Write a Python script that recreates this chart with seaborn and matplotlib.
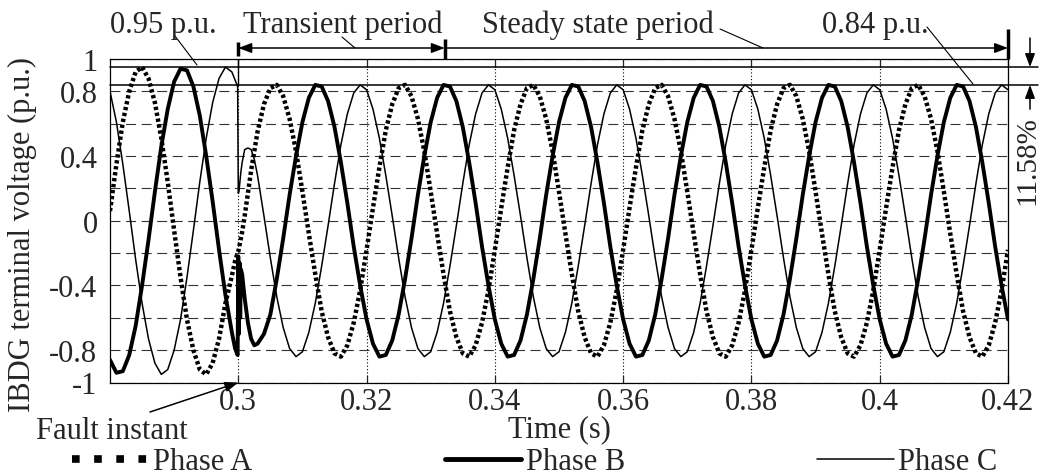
import numpy as np
import pandas as pd
from matplotlib import pyplot as plt
from matplotlib.lines import Line2D
import matplotlib.transforms as mtransforms
import seaborn as sns

W, H = 1041, 477

# sample times (s): 1 ms steps, finer steps around the fault instant
t_pre = np.arange(280, 300) / 1000
t_fault = [0.2995, 0.2999, 0.3000, 0.3001, 0.3002, 0.3003, 0.3004,
           0.3006, 0.3010, 0.3015, 0.3020, 0.3025, 0.3030]
t_post = np.arange(304, 421) / 1000

# terminal voltages (p.u.)
phase_a_pre = [0.06, 0.35, 0.61, 0.80, 0.92, 0.95, 0.88, 0.73, 0.51, 0.24,
               -0.06, -0.35, -0.61, -0.80, -0.92, -0.95, -0.88, -0.73, -0.51, -0.34]
phase_a_fault = [-0.25, -0.20, -0.19, -0.17, -0.15, -0.13, -0.11, -0.07, 0.03, 0.17, 0.31, 0.43, 0.55]
phase_a_post = [
    0.72, 0.82, 0.84, 0.77, 0.63, 0.43, 0.18, -0.08, -0.33, -0.56,
    -0.72, -0.82, -0.84, -0.77, -0.63, -0.43, -0.18, 0.08, 0.33, 0.56,
    0.72, 0.82, 0.84, 0.77, 0.63, 0.43, 0.18, -0.08, -0.33, -0.56,
    -0.72, -0.82, -0.84, -0.77, -0.63, -0.43, -0.18, 0.08, 0.33, 0.56,
    0.72, 0.82, 0.84, 0.77, 0.63, 0.43, 0.18, -0.08, -0.33, -0.56,
    -0.72, -0.82, -0.84, -0.77, -0.63, -0.43, -0.18, 0.08, 0.33, 0.56,
    0.72, 0.82, 0.84, 0.77, 0.63, 0.43, 0.18, -0.08, -0.33, -0.56,
    -0.72, -0.82, -0.84, -0.77, -0.63, -0.43, -0.18, 0.08, 0.33, 0.56,
    0.72, 0.82, 0.84, 0.77, 0.63, 0.43, 0.18, -0.08, -0.33, -0.56,
    -0.72, -0.82, -0.84, -0.77, -0.63, -0.43, -0.18, 0.08, 0.33, 0.56,
    0.72, 0.82, 0.84, 0.77, 0.63, 0.43, 0.18, -0.08, -0.33, -0.56,
    -0.72, -0.82, -0.84, -0.77, -0.63, -0.43, -0.18]

phase_b_pre = [-0.86, -0.94, -0.93, -0.83, -0.65, -0.40, -0.12, 0.18, 0.46, 0.69,
               0.86, 0.94, 0.93, 0.83, 0.65, 0.40, 0.12, -0.18, -0.46, -0.69]
phase_b_fault = [-0.79, -0.83, -0.22, -0.70, -0.26, -0.60, -0.30, -0.33, -0.48, -0.63, -0.73, -0.77, -0.76]
phase_b_post = [
    -0.70, -0.58, -0.36, -0.11, 0.16, 0.40, 0.61, 0.76, 0.84, 0.83,
    0.74, 0.58, 0.36, 0.11, -0.16, -0.40, -0.61, -0.76, -0.84, -0.83,
    -0.74, -0.58, -0.36, -0.11, 0.16, 0.40, 0.61, 0.76, 0.84, 0.83,
    0.74, 0.58, 0.36, 0.11, -0.16, -0.40, -0.61, -0.76, -0.84, -0.83,
    -0.74, -0.58, -0.36, -0.11, 0.16, 0.40, 0.61, 0.76, 0.84, 0.83,
    0.74, 0.58, 0.36, 0.11, -0.16, -0.40, -0.61, -0.76, -0.84, -0.83,
    -0.74, -0.58, -0.36, -0.11, 0.16, 0.40, 0.61, 0.76, 0.84, 0.83,
    0.74, 0.58, 0.36, 0.11, -0.16, -0.40, -0.61, -0.76, -0.84, -0.83,
    -0.74, -0.58, -0.36, -0.11, 0.16, 0.40, 0.61, 0.76, 0.84, 0.83,
    0.74, 0.58, 0.36, 0.11, -0.16, -0.40, -0.61, -0.76, -0.84, -0.83,
    -0.74, -0.58, -0.36, -0.11, 0.16, 0.40, 0.61, 0.76, 0.84, 0.83,
    0.74, 0.58, 0.36, 0.11, -0.16, -0.40, -0.61]

phase_c_pre = [0.80, 0.61, 0.35, 0.06, -0.24, -0.51, -0.73, -0.88, -0.95, -0.92,
               -0.80, -0.61, -0.35, -0.06, 0.24, 0.51, 0.73, 0.88, 0.95, 0.92]
phase_c_fault = [0.87, 0.83, 0.17, 0.18, 0.22, 0.26, 0.30, 0.36, 0.44, 0.45, 0.44, 0.38, 0.28]
phase_c_post = [
    0.03, -0.23, -0.47, -0.66, -0.79, -0.84, -0.81, -0.69, -0.51, -0.28,
    -0.03, 0.23, 0.47, 0.66, 0.79, 0.84, 0.81, 0.69, 0.51, 0.28,
    0.03, -0.23, -0.47, -0.66, -0.79, -0.84, -0.81, -0.69, -0.51, -0.28,
    -0.03, 0.23, 0.47, 0.66, 0.79, 0.84, 0.81, 0.69, 0.51, 0.28,
    0.03, -0.23, -0.47, -0.66, -0.79, -0.84, -0.81, -0.69, -0.51, -0.28,
    -0.03, 0.23, 0.47, 0.66, 0.79, 0.84, 0.81, 0.69, 0.51, 0.28,
    0.03, -0.23, -0.47, -0.66, -0.79, -0.84, -0.81, -0.69, -0.51, -0.28,
    -0.03, 0.23, 0.47, 0.66, 0.79, 0.84, 0.81, 0.69, 0.51, 0.28,
    0.03, -0.23, -0.47, -0.66, -0.79, -0.84, -0.81, -0.69, -0.51, -0.28,
    -0.03, 0.23, 0.47, 0.66, 0.79, 0.84, 0.81, 0.69, 0.51, 0.28,
    0.03, -0.23, -0.47, -0.66, -0.79, -0.84, -0.81, -0.69, -0.51, -0.28,
    -0.03, 0.23, 0.47, 0.66, 0.79, 0.84, 0.81]

phase_names = ['Phase A', 'Phase B', 'Phase C']
x_ticks = [0.30, 0.32, 0.34, 0.36, 0.38, 0.40, 0.42]
x_tick_labels = ['0.3', '0.32', '0.34', '0.36', '0.38', '0.4', '0.42']
y_ticks = [1, 0.8, 0.4, 0, -0.4, -0.8, -1]
y_tick_labels = ['1', '0.8', '0.4', '0', '-0.4', '-0.8', '-1']
y_minor = [0.6, 0.2, -0.2, -0.6]

# annotation values
fault_time = 0.3
transient_end = 0.3322
pre_level = 0.95
post_level = 0.84
drop_label = '11.58%'

df = pd.DataFrame({
    'time': np.concatenate([t_pre, t_fault, t_post]),
    'Phase A': phase_a_pre + phase_a_fault + phase_a_post,
    'Phase B': phase_b_pre + phase_b_fault + phase_b_post,
    'Phase C': phase_c_pre + phase_c_fault + phase_c_post,
})

sns.set_style('white')
plt.rcParams['font.family'] = ['Liberation Serif', 'DejaVu Serif']
plt.rcParams['font.size'] = 22
plt.rcParams['axes.unicode_minus'] = False


def fpx(x, y):
    # pixel position in the 1041x477 picture -> figure fraction
    return x / W, 1 - y / H


fig = plt.figure(figsize=(W / 100, H / 100), dpi=100)
ax = fig.add_axes([110 / W, 1 - 383.5 / H, 898 / W, 323.5 / H])

styles = {
    'Phase A': dict(lw=3.2, linestyle=(0, (0.75, 0.6))),
    'Phase B': dict(lw=2.8, linestyle='-'),
    'Phase C': dict(lw=1.1, linestyle='-'),
}
for name in phase_names:
    sns.lineplot(data=df, x='time', y=name, ax=ax, color='k',
                 errorbar=None, **styles[name])

ax.set_xlabel('')
ax.set_ylabel('')
ax.set_xlim(0.28, 0.42)
ax.set_ylim(-1, 1)
ax.set_xticks(x_ticks, x_tick_labels)
ax.set_yticks(y_ticks, y_tick_labels)
ax.set_yticks(y_minor, minor=True)
ax.xaxis.grid(True, ls=(0, (1, 2)), color='k', lw=0.8)
ax.yaxis.grid(True, which='both', ls=(0, (9, 5)), color='0.2', lw=0.8)
ax.tick_params(axis='x', direction='in', length=6, width=0.9, top=True,
               bottom=True, pad=3, labelsize=22)
ax.tick_params(axis='y', which='both', length=0, pad=9, labelsize=22)
for s in ax.spines.values():
    s.set_color('k')
    s.set_linewidth(0.9)

# 0.95 / 0.84 p.u. reference levels
for lev in (pre_level, post_level):
    ax.axhline(lev, xmin=0, xmax=1.033, color='k', lw=1.1, clip_on=False)
ax.plot([fault_time, fault_time], [post_level, 1.0], color='k', lw=1.0)

# period arrows
arrow_y = 1.068
head = dict(color='k', lw=1.1, shrinkA=0, shrinkB=0, mutation_scale=10)
ax.annotate('', xy=(fault_time, arrow_y), xytext=(transient_end, arrow_y),
            arrowprops=dict(arrowstyle='<|-|>,head_length=0.8,head_width=0.3', **head),
            annotation_clip=False)
ax.annotate('', xy=(0.42, arrow_y), xytext=(transient_end, arrow_y),
            arrowprops=dict(arrowstyle='-|>,head_length=0.8,head_width=0.3', **head),
            annotation_clip=False)
for xb, y0, y1 in [(fault_time, 1.02, 1.105), (transient_end, 1.0, 1.124), (0.42, 1.0, 1.185)]:
    ax.plot([xb, xb], [y0, y1], color='k', lw=2.5, clip_on=False, solid_capstyle='butt')

# voltage drop dimension on the right
xd = 1.0245
ax.annotate('', xy=(xd, pre_level), xycoords=('axes fraction', 'data'),
            xytext=(xd, 1.13), textcoords=('axes fraction', 'data'),
            arrowprops=dict(arrowstyle='-|>,head_length=0.8,head_width=0.3', **head),
            annotation_clip=False)
ax.annotate('', xy=(xd, post_level), xycoords=('axes fraction', 'data'),
            xytext=(xd, 0.69), textcoords=('axes fraction', 'data'),
            arrowprops=dict(arrowstyle='-|>,head_length=0.8,head_width=0.3', **head),
            annotation_clip=False)
ax.text(1.0215, 0.376, drop_label, rotation=90, ha='center', va='center', fontsize=21,
        transform=mtransforms.blended_transform_factory(ax.transAxes, ax.transData))

# top labels and leaders
fig.text(*fpx(110, 33), '0.95 p.u.', ha='left', va='baseline')
fig.text(*fpx(243, 33), 'Transient period', ha='left', va='baseline')
fig.text(*fpx(482, 33), 'Steady state period', ha='left', va='baseline')
fig.text(*fpx(822, 33), '0.84 p.u.', ha='left', va='baseline')
for (x0, y0), (x1, y1) in [((175, 37), (197, 66)), ((342, 38), (355, 49)),
                           ((720, 30), (763, 49)), ((927, 28), (973, 85))]:
    fig.add_artist(Line2D([x0 / W, x1 / W], [1 - y0 / H, 1 - y1 / H], color='k', lw=0.8))

# fault instant
ax.annotate('', xy=(fault_time, -1.0), xytext=fpx(150, 413), textcoords='figure fraction',
            arrowprops=dict(arrowstyle='-|>,head_length=0.8,head_width=0.3', **head),
            annotation_clip=False)
fig.text(*fpx(112, 439), 'Fault instant', ha='center', va='baseline')
fig.text(*fpx(559, 437), 'Time (s)', ha='center', va='baseline')
fig.text(*fpx(22, 235), 'IBDG terminal voltage (p.u.)', rotation=90, ha='center', va='center')

handles = [Line2D([], [], color='k', lw=5.5, linestyle=(0, (1.0, 1.9))),
           Line2D([], [], color='k', lw=3.5),
           Line2D([], [], color='k', lw=1.1)]
fig.legend(handles, phase_names, loc='center left', bbox_to_anchor=fpx(72, 463),
           ncol=3, frameon=False, handlelength=2.5, handletextpad=0.15,
           columnspacing=6.3, borderpad=0, borderaxespad=0)

fig.savefig('out.png', dpi=100)
